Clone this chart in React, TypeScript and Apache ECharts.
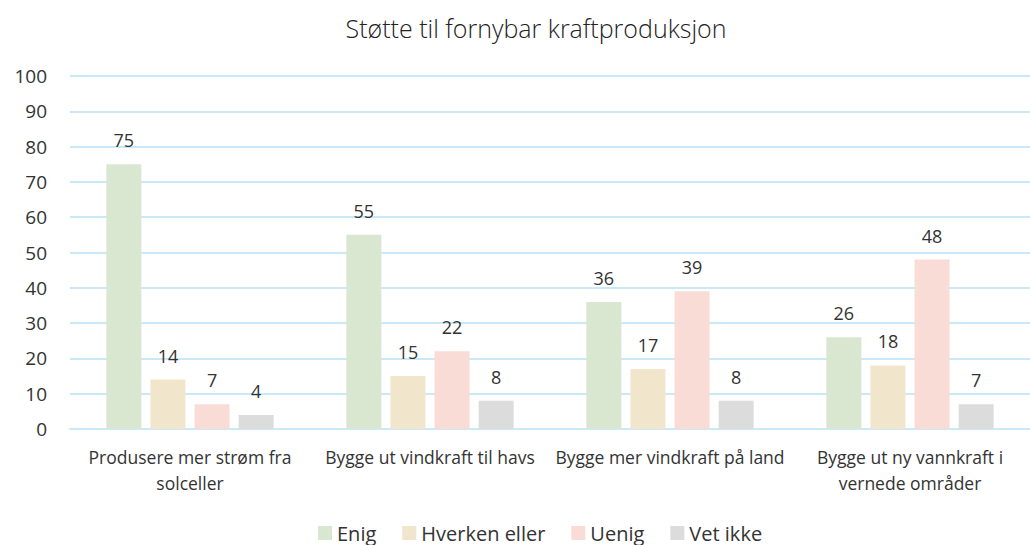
import React, { useEffect, useRef } from "react";
import * as echarts from "echarts";

const title = "Støtte til fornybar kraftproduksjon";
const categories = [
  "Produsere mer strøm fra\nsolceller",
  "Bygge ut vindkraft til havs",
  "Bygge mer vindkraft på land",
  "Bygge ut ny vannkraft i\nvernede områder",
];
const seriesNames = ["Enig", "Hverken eller", "Uenig", "Vet ikke"];
const enig = [75, 55, 36, 26];
const hverken = [14, 15, 17, 18];
const uenig = [7, 22, 39, 48];
const vetIkke = [4, 8, 8, 7];
const colors = ["#d9e7d0", "#f1e5cc", "#f9dcd5", "#dcdcdc"];

const FONT = "'Open Sans', 'Noto Sans', sans-serif";

export default function App() {
  const ref = useRef<HTMLDivElement>(null);
  useEffect(() => {
    if (!ref.current) return;
    const chart = echarts.init(ref.current, undefined, { renderer: "svg" });
    const data = [enig, hverken, uenig, vetIkke];
    chart.setOption({
      animation: false,
      backgroundColor: "#ffffff",
      textStyle: { fontFamily: FONT },
      title: {
        text: title,
        left: 531,
        textAlign: "center",
        top: 10,
        textStyle: { fontFamily: FONT, fontSize: 25, fontWeight: 300, color: "#222" },
      },
      legend: {
        data: seriesNames,
        bottom: -3,
        left: 313,
        itemWidth: 14,
        itemHeight: 14,
        itemGap: 26,
        icon: "rect",
        textStyle: { fontFamily: FONT, fontSize: 20, color: "#333" },
      },
      grid: { left: 70, right: 0, top: 76, bottom: 116, containLabel: false },
      xAxis: {
        type: "category",
        data: categories,
        axisLine: { lineStyle: { color: "#c9e8f8", width: 2 } },
        axisTick: { show: false },
        axisLabel: {
          fontFamily: FONT,
          fontSize: 17.5,
          color: "#333",
          lineHeight: 26,
          margin: 15,
          interval: 0,
        },
      },
      yAxis: {
        type: "value",
        min: 0,
        max: 100,
        interval: 10,
        axisLine: { show: false },
        axisTick: { show: false },
        splitLine: { lineStyle: { color: "#c9e8f8", width: 2 } },
        axisLabel: { fontFamily: FONT, fontSize: 19, color: "#333", margin: 23 },
      },
      series: seriesNames.map((name, i) => ({
        name,
        type: "bar",
        data: data[i],
        barWidth: 35,
        barGap: "26%",
        itemStyle: { color: colors[i] },
        label: {
          show: true,
          position: "top",
          distance: 15,
          fontFamily: FONT,
          fontSize: 18,
          color: "#333",
        },
      })),
    });
    return () => chart.dispose();
  }, []);
  return (
    <div
      ref={ref}
      style={{ position: "fixed", left: 0, top: 0, width: 1030, height: 545 }}
    />
  );
}
